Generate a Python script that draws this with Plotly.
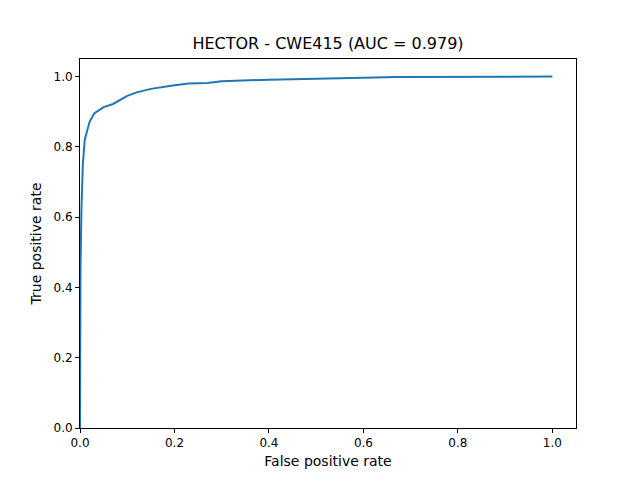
import plotly.graph_objects as go

fpr = [0.0, 0.0, 0.001, 0.003, 0.006, 0.01, 0.015, 0.02, 0.03, 0.04, 0.05, 0.07, 0.08, 0.1, 0.12, 0.15, 0.2, 0.23, 0.27, 0.3, 0.4, 0.5, 0.6, 0.67, 0.8, 1.0]
tpr = [0.0, 0.28, 0.45, 0.62, 0.75, 0.82, 0.845, 0.87, 0.895, 0.905, 0.913, 0.922, 0.93, 0.945, 0.955, 0.965, 0.975, 0.98, 0.982, 0.987, 0.991, 0.995, 0.997, 0.999, 0.999, 1.0]

fig = go.Figure(go.Scatter(x=fpr, y=tpr, mode="lines", line=dict(color="#1f77b4", width=2)))
axis = dict(showgrid=False, zeroline=False, showline=True, mirror=True, linecolor="black",
            ticks="outside", tickcolor="black", ticklen=4, tickformat=".1f", dtick=0.2)
fig.update_layout(
    width=640, height=480, plot_bgcolor="white", paper_bgcolor="white",
    margin=dict(l=72, r=72, t=51, b=60),
    font=dict(family="DejaVu Sans", size=12, color="black"),
    title=dict(text="HECTOR - CWE415 (AUC = 0.979)", x=0.5, xanchor="center",
               y=0.927, yanchor="middle", font=dict(size=16)),
    xaxis=dict(axis, range=[0, 1.05], title=dict(text="False positive rate", standoff=6)),
    yaxis=dict(axis, range=[0, 1.05], title=dict(text="True positive rate", standoff=8)),
    showlegend=False,
)
fig.write_html("out.html")
